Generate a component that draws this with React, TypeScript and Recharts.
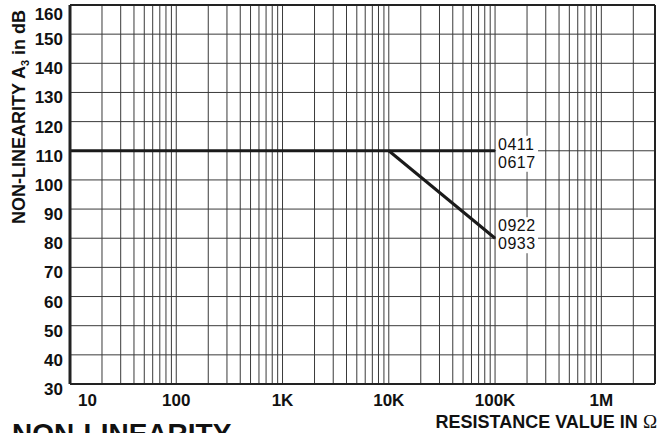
import { LineChart, Line, XAxis, YAxis, CartesianGrid, ReferenceLine } from 'recharts';

// resistance (ohm) / non-linearity (dB)
const FLAT_R = [10, 100000];
const FLAT_DB = [110, 110];
const SLOPE_R = [10000, 100000];
const SLOPE_DB = [110, 80];
const FLAT_CODES = ['0411', '0617'];
const SLOPE_CODES = ['0922', '0933'];

const MANTISSAS = [1, 2, 3, 4, 5, 6, 7, 8, 9];
const DECADES = [10, 100, 1000, 10000, 100000, 1000000];
const DECADE_LABELS = ['10', '100', '1K', '10K', '100K', '1M'];
const Y_TICKS = [30, 40, 50, 60, 70, 80, 90, 100, 110, 120, 130, 140, 150, 160];
const R_MAX = 3200000;

const FONT = '"Liberation Sans", Arial, Helvetica, sans-serif';
const INK = '#111';

const flatData = FLAT_R.map((r, i) => ({ r, db: FLAT_DB[i] }));
const slopeData = SLOPE_R.map((r, i) => ({ r, db: SLOPE_DB[i] }));
const gridTicks = DECADES.flatMap((d) => MANTISSAS.map((m) => m * d)).filter((v) => v < 3000000);

function XTick({ x, y, payload }: any) {
  const i = DECADES.indexOf(payload.value);
  if (i < 0) return <g />;
  const first = i === 0;
  return (
    <text
      x={first ? x + 8 : x}
      y={y + 22}
      textAnchor={first ? 'start' : 'middle'}
      fontFamily={FONT}
      fontSize={17}
      fontWeight="bold"
      fill={INK}
    >
      {DECADE_LABELS[i]}
    </text>
  );
}

function YTick({ x, y, payload }: any) {
  return (
    <text x={x - 7} y={Math.max(y + 11, 20)} textAnchor="end" fontFamily={FONT} fontSize={17} fontWeight="bold" fill={INK}>
      {payload.value}
    </text>
  );
}

function codeLabel(codes: string[], dy: number[], last: number) {
  return (p: any) => {
    if (p.index !== last) return <g />;
    const { x, y } = p;
    return (
      <g>
        <rect x={x + 1} y={y + dy[0] - 14} width={42} height={dy[1] - dy[0] + 18} fill="#fff" />
        <text x={x + 3} y={y + dy[0]} fontFamily={FONT} fontSize={16} letterSpacing={0.5} fill={INK}>
          {codes[0]}
        </text>
        <text x={x + 3} y={y + dy[1]} fontFamily={FONT} fontSize={16} letterSpacing={0.5} fill={INK}>
          {codes[1]}
        </text>
      </g>
    );
  };
}

export default function App() {
  return (
    <div style={{ position: 'fixed', left: 0, top: 0, width: 659, height: 433, overflow: 'hidden', background: '#fff' }}>
      <LineChart width={659} height={433} margin={{ top: 5, right: 4, bottom: 19, left: 10 }}>
        <CartesianGrid stroke="#3a3a3a" strokeWidth={1} />
        <XAxis
          type="number"
          dataKey="r"
          scale="log"
          domain={[10, R_MAX]}
          allowDataOverflow
          ticks={gridTicks}
          interval={0}
          height={30}
          tickSize={0}
          tickMargin={0}
          tickLine={false}
          tick={<XTick />}
          axisLine={{ stroke: '#222', strokeWidth: 2 }}
        />
        <YAxis
          type="number"
          domain={[30, 160]}
          ticks={Y_TICKS}
          interval={0}
          width={60}
          tickSize={0}
          tickMargin={0}
          tickLine={false}
          tick={<YTick />}
          axisLine={{ stroke: '#222', strokeWidth: 3 }}
        />
        <ReferenceLine y={160} stroke="#222" strokeWidth={2} />
        <ReferenceLine x={R_MAX} stroke="#222" strokeWidth={2} />
        <Line
          data={flatData}
          dataKey="db"
          stroke="#1a1a1a"
          strokeWidth={3}
          dot={false}
          isAnimationActive={false}
          label={codeLabel(FLAT_CODES, [-1, 17], flatData.length - 1)}
        />
        <Line
          data={slopeData}
          dataKey="db"
          stroke="#1a1a1a"
          strokeWidth={3}
          dot={false}
          isAnimationActive={false}
          label={codeLabel(SLOPE_CODES, [-7, 11], slopeData.length - 1)}
        />
        <text
          x={25}
          y={117}
          transform="rotate(-90, 25, 117)"
          textAnchor="middle"
          fontFamily={FONT}
          fontSize={18}
          fontWeight="bold"
          fill={INK}
        >
          NON-LINEARITY A<tspan fontSize={11} dy={4}>3</tspan>
          <tspan dy={-4}> in dB</tspan>
        </text>
        <text x={657} y={428} textAnchor="end" fontFamily={FONT} fontSize={18} fontWeight="bold" fill={INK}>
          RESISTANCE VALUE IN <tspan fontFamily='"Liberation Serif", "Times New Roman", serif' fontWeight="normal" fontSize={19}>Ω</tspan>
        </text>
        <text x={12} y={443} fontFamily={FONT} fontSize={28} fontWeight="bold" fill={INK}>
          NON-LINEARITY
        </text>
      </LineChart>
    </div>
  );
}
